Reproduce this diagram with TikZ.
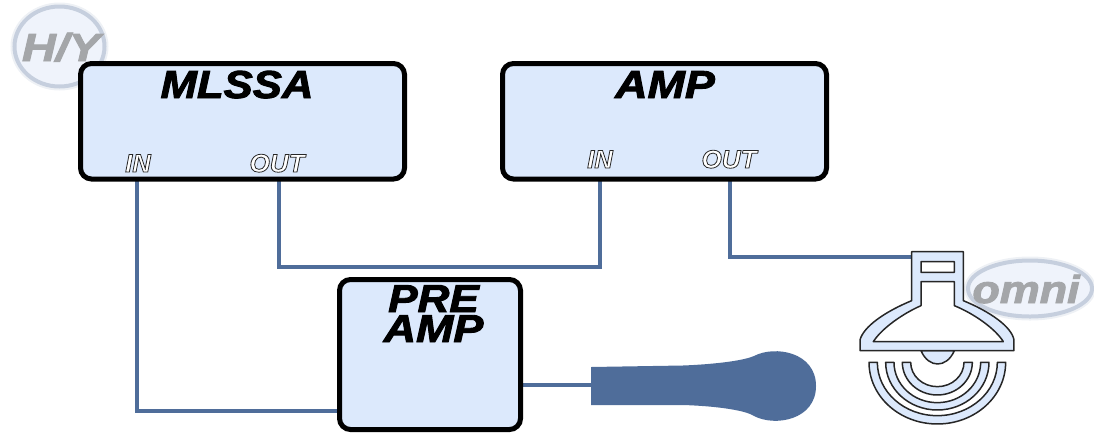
\documentclass[tikz,border=0pt]{standalone}
\usepackage{fontspec}
\setmainfont{Liberation Sans}
\definecolor{wire}{HTML}{4F6D9A}
\definecolor{boxfill}{HTML}{DCE9FC}
\definecolor{badgefill}{HTML}{EFF3FB}
\definecolor{badgeline}{HTML}{C6CFDE}
\definecolor{badgetext}{HTML}{A4A6A9}
\newcommand{\titletext}[2]{\scalebox{#1}[1]{#2}}
\newcommand{\outlined}[1]{\special{pdf:code q 2 Tr 0.8 w 0.15 0.15 0.15 RG 1 1 1 rg}#1\special{pdf:code Q}}
\newcommand{\heavyblack}[1]{\special{pdf:code q 2 Tr 0.9 w 0 0 0 RG 0 0 0 rg}#1\special{pdf:code Q}}
\newcommand{\heavygray}[1]{\special{pdf:code q 2 Tr 0.9 w 0.643 0.651 0.663 RG 0.643 0.651 0.663 rg}#1\special{pdf:code Q}}
\usetikzlibrary{shapes.geometric}
\tikzset{
  panel/.style={draw=black,line width=5pt,fill=boxfill,rounded corners=11pt,inner sep=0pt,outer sep=0pt,anchor=north west},
  title/.style={anchor=base,inner sep=0pt,font=\fontsize{39}{39}\selectfont\bfseries\itshape,text=black},
  port/.style={anchor=base,inner sep=0pt,font=\fontsize{25.5}{25.5}\selectfont\bfseries\itshape},
  badgetitle/.style={anchor=base,inner sep=0pt,font=\fontsize{39}{39}\selectfont\bfseries\itshape,text=badgetext},
  badge/.style={draw=badgeline,line width=4pt,fill=badgefill,ellipse,inner sep=0pt,outer sep=0pt,
    preaction={draw=badgeline,draw opacity=.3,line width=8pt}},
  cable/.style={draw=wire,line width=4pt,line join=miter},
  micline/.style={draw=black!85,line width=1.5pt,fill=boxfill,line join=round,even odd rule},
}
\begin{document}
\begin{tikzpicture}[x=1pt,y=-1pt]
\useasboundingbox (0,0) rectangle (1094,432);
% badges
\node[badge,minimum width=90pt,minimum height=80pt] (hy) at (59.5,46.5) {};
\node[badgetitle] (hytext) at (61,61) {\titletext{1.2}{\heavygray{H/Y}}};
\node[badge,minimum width=124pt,minimum height=56pt] (omni) at (1030,288.5) {};
\node[badgetitle] (omnitext) at (1026,303) {\titletext{1.15}{\heavygray{omni}}};
% ports
\coordinate (mlssaIn) at (137,178);
\coordinate (mlssaOut) at (279,178);
\coordinate (ampIn) at (600,178);
\coordinate (ampOut) at (730,178);
\coordinate (preIn) at (342,411);
\coordinate (preOut) at (520,385);
\coordinate (micIn) at (593,385);
\coordinate (spkIn) at (912,257);
% wires
\draw[cable] (mlssaIn) |- (preIn);
\draw[cable] (mlssaOut) |- (430,267) -| (ampIn);
\draw[cable] (ampOut) |- (spkIn);
\draw[cable] (preOut) -- (micIn);
% boxes
\node[panel,minimum width=324pt,minimum height=115.5pt] (mlssa) at (80.5,63.5) {};
\node[panel,minimum width=324pt,minimum height=115.5pt] (amp) at (502.5,63.5) {};
\node[panel,minimum width=181pt,minimum height=150pt] (preamp) at (339.5,279.5) {};
% titles
\node[title] (mlssatext) at (237,98) {\titletext{1.12}{\heavyblack{MLSSA}}};
\node[title] (amptext) at (665,98) {\titletext{1.15}{\heavyblack{AMP}}};
\node[title,anchor=north,align=center,font=\fontsize{39}{30}\selectfont\bfseries\itshape] (pretext) at (433.5,285)
  {\titletext{1.13}{\heavyblack{PRE}}\\[0pt]\titletext{1.15}{\heavyblack{AMP}}};
% port labels
\node[port] (l1) at (138,172) {\outlined{IN}};
\node[port] (l2) at (277,172) {\titletext{1.02}{\outlined{OUT}}};
\node[port] (l3) at (600,168) {\outlined{IN}};
\node[port] (l4) at (729,168) {\titletext{1.02}{\outlined{OUT}}};
% microphone
\fill[wire] (591,367) -- (683,365.5) .. controls (720,364) and (745,360) .. (754,356)
  .. controls (775,345) and (816,352) .. (816,386)
  .. controls (816,420) and (775,427) .. (754,416)
  .. controls (745,410) and (715,406) .. (683,405) -- (591,405) -- cycle;
% omni source symbol
\begin{scope}[shift={(840,240)},x=0.3333pt,y=-0.3333pt]
\path[micline] (243,332) .. controls (255,360) and (275,372) .. (293,372)
  .. controls (311,372) and (331,360) .. (343,332) -- cycle;
\path[micline] (215,35) -- (370,35) -- (370,182)
  .. controls (450,215) and (515,260) .. (522,300) -- (522,332) -- (60,332) -- (60,300)
  .. controls (70,260) and (135,215) .. (215,182) -- cycle
  (243,65) -- (343,65) -- (343,97) -- (243,97) -- cycle
  (243,125) -- (343,125) -- (343,197)
  .. controls (400,220) and (465,265) .. (490,305) -- (100,305)
  .. controls (125,265) and (190,220) .. (243,197) -- cycle;
\foreach \ro/\bo/\ri/\bi in {205/185/180/160,155/143/130/121,105/98/80/73}{
  \path[micline] (292-\ro,367) arc[start angle=180,end angle=360,x radius=\ro,y radius=-\bo]
    -- (292+\ri,367) arc[start angle=360,end angle=180,x radius=\ri,y radius=-\bi] -- cycle;
}
\end{scope}
\end{tikzpicture}
\end{document}
